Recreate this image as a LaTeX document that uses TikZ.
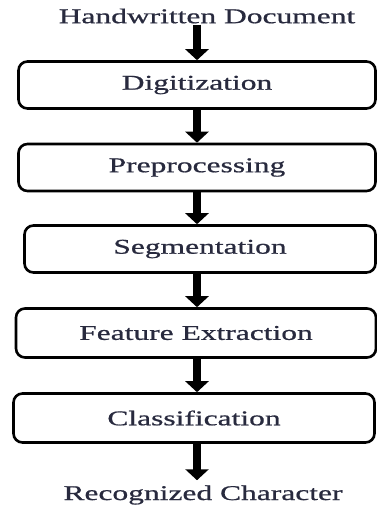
\documentclass[tikz,border=0pt]{standalone}
\usepackage{fontspec}
\setmainfont{Liberation Serif}[FakeStretch=1.5,FakeBold=0.8]
\usetikzlibrary{arrows.meta}
\definecolor{inkcol}{RGB}{40,42,62}

\begin{document}
\begin{tikzpicture}[x=1pt,y=-1pt,
                    every node/.style={text=inkcol, font=\fontsize{21}{24}\selectfont},
                    stage/.style={draw=black, line width=2.6pt, rounded corners=9pt,
                                  minimum width=357pt, minimum height=47pt, inner sep=0pt},
                    flow/.style={draw=black, line width=8.5pt,
                                 -{Triangle[width=23pt,length=11pt]}}]
                    \useasboundingbox (0,0) rectangle (377,507);
                    \node[inner sep=1pt] (doc) at (207, 16) {Handwritten Document};
                    \node[stage] (dig) at (197, 85) {Digitization};
                    \node[stage] (pre) at (197, 167.5) {Preprocessing};
                    \node[stage, minimum width=351pt] (seg) at (200, 249) {Segmentation};
                    \node[stage, minimum width=360pt, minimum height=49pt] (feat) at (196, 333) {Feature Extraction};
                    \node[stage, minimum width=361pt, minimum height=49pt] (cls) at (194, 418) {Classification};
                    \node[inner sep=1pt] (rec) at (203, 495) {Recognized Character};
                    \draw[flow] (doc.south -| dig) -- (dig.north);
                    \draw[flow] (dig.south) -- (pre.north);
                    \draw[flow] (pre.south) -- (seg.north -| pre);
                    \draw[flow] (seg.south -| pre) -- (feat.north -| pre);
                    \draw[flow] (feat.south -| pre) -- (cls.north -| pre);
                    \draw[flow, shorten >=4pt] (cls.south -| pre) -- (rec.north -| pre);
                \end{tikzpicture}
\end{document}
